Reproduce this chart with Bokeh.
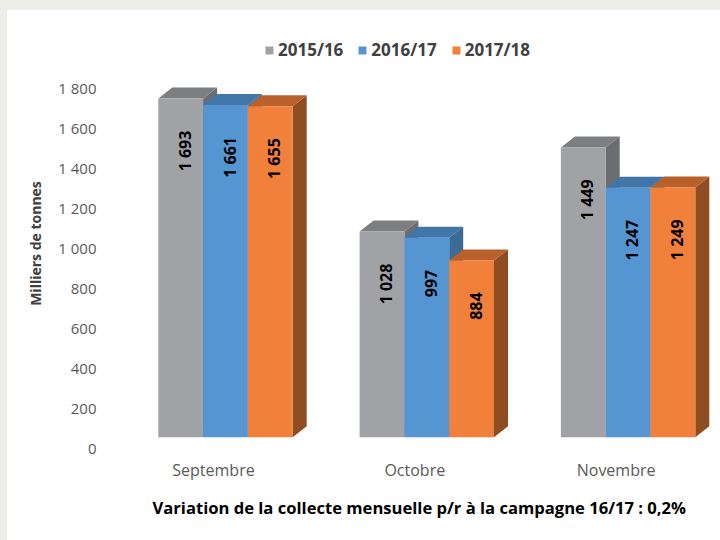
import math
from bokeh.plotting import figure
from bokeh.layouts import column, row
from bokeh.models import Range1d, FixedTicker, Legend, LegendItem, ColumnDataSource, Title, Spacer
from bokeh.core.properties import value
from bokeh.embed import file_html
from bokeh.resources import INLINE

# ---- data ----
categories = ["Septembre", "Octobre", "Novembre"]
series = ["2015/16", "2016/17", "2017/18"]
v_2015_16 = [1693, 1028, 1449]
v_2016_17 = [1661, 997, 1247]
v_2017_18 = [1655, 884, 1249]
y_ticks = [0, 200, 400, 600, 800, 1000, 1200, 1400, 1600, 1800]
y_title = "Milliers de tonnes"
caption = "Variation de la collecte mensuelle p/r à la campagne 16/17 : 0,2%"

# ---- style ----
front_colors = ["#A0A2A5", "#5596D2", "#F0803A"]
top_colors = ["#7D7E80", "#4076A8", "#B8612B"]
side_colors = ["#6B6D70", "#3A6A96", "#8F4E22"]
GREY = "#EEEEE9"
FONT = "Open Sans"

W, H = 713, 530
PX_X = 201.3           # pixels per category unit
PX_Y = 0.2             # pixels per data unit
BW = 44.8 / PX_X       # bar width
DX = 14 / PX_X         # depth offset x
DY = 11 / PX_Y         # depth offset y (data units)
BASE = DY              # front face floor
SHIFT = 12 / PX_X      # bars are right of the category label

x0 = -109 / PX_X
p = figure(width=W, height=H, output_backend="svg", toolbar_location=None,
           x_range=Range1d(x0, x0 + 608 / PX_X),
           y_range=Range1d(-41.5, -41.5 + 426 / PX_Y),
           min_border_left=97, min_border_right=8, min_border_top=20, min_border_bottom=84)
p.background_fill_color = "white"
p.border_fill_color = "white"
p.outline_line_color = None
p.grid.visible = False

all_vals = [v_2015_16, v_2016_17, v_2017_18]
front_renderers = []
for k, vals in enumerate(all_vals):
    xl = [i + SHIFT + (k - 1.5) * BW for i in range(len(categories))]
    xr = [a + BW for a in xl]
    tops = [v + BASE for v in vals]
    side_xs = [[r, r + DX, r + DX, r] for r in xr]
    side_ys = [[BASE, BASE + DY, t + DY, t] for t in tops]
    p.patches(side_xs, side_ys, fill_color=side_colors[k], line_color=None)
    top_xs = [[l, r, r + DX, l + DX] for l, r in zip(xl, xr)]
    top_ys = [[t, t, t + DY, t + DY] for t in tops]
    p.patches(top_xs, top_ys, fill_color=top_colors[k], line_color=None)
    src = ColumnDataSource(dict(left=xl, right=xr, bottom=[BASE] * len(vals), top=tops))
    r = p.quad(left="left", right="right", bottom="bottom", top="top", source=src,
               fill_color=front_colors[k], line_color=None)
    front_renderers.append(r)
    lab = [f"{v:,}".replace(",", " ") for v in vals]
    lsrc = ColumnDataSource(dict(x=[(a + b) / 2 + 4 / PX_X for a, b in zip(xl, xr)],
                                 y=[t - 32 / PX_Y for t in tops], text=lab))
    p.text(x="x", y="y", text="text", source=lsrc, angle=math.pi / 2,
           text_align="right", text_baseline="middle",
           text_font=value(FONT), text_font_style="bold", text_font_size="16px",
           text_color="black")

# ---- axes ----
ya = p.yaxis[0]
ya.ticker = FixedTicker(ticks=y_ticks)
ya.major_label_overrides = {t: f"{t:,}".replace(",", " ") for t in y_ticks}
ya.axis_line_color = None
ya.major_tick_line_color = None
ya.minor_tick_line_color = None
ya.major_tick_out = 0
ya.major_tick_in = 0
ya.major_label_standoff = 8
ya.major_label_text_font = FONT
ya.major_label_text_font_size = "15px"
ya.major_label_text_color = "#595959"
ya.axis_label = y_title
ya.axis_label_text_font = FONT
ya.axis_label_text_font_style = "bold"
ya.axis_label_text_font_size = "14px"
ya.axis_label_text_color = "#404040"
ya.axis_label_standoff = 10

xa = p.xaxis[0]
xa.ticker = FixedTicker(ticks=list(range(len(categories))))
xa.major_label_overrides = {i: c for i, c in enumerate(categories)}
xa.axis_line_color = None
xa.major_tick_line_color = None
xa.minor_tick_line_color = None
xa.major_tick_out = 0
xa.major_tick_in = 0
xa.major_label_standoff = 2
xa.major_label_text_font = FONT
xa.major_label_text_font_size = "16px"
xa.major_label_text_color = "#595959"

# ---- legend ----
legend = Legend(items=[LegendItem(label=s, renderers=[front_renderers[k]]) for k, s in enumerate(series)],
                orientation="horizontal", location=(160, 395),
                glyph_width=10, glyph_height=10, label_standoff=4, spacing=14,
                padding=0, margin=0, border_line_color=None, background_fill_alpha=0,
                label_text_font=FONT, label_text_font_style="bold",
                label_text_font_size="17px", label_text_color="#404040")
p.add_layout(legend)

# ---- caption ----
p.add_layout(Title(text=caption, align="left", offset=48, standoff=20, text_font=FONT,
                   text_font_style="bold", text_font_size="16.6px", text_color="black"), "below")

layout = column(Spacer(width=720, height=10, styles={"background-color": GREY}),
                row(Spacer(width=7, height=H, styles={"background-color": GREY}), p))

open("out.html", "w").write(file_html(layout, INLINE))
